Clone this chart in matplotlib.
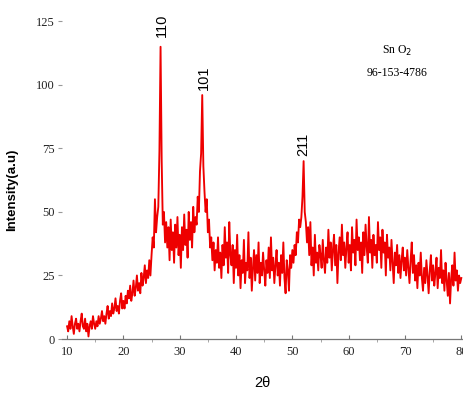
import numpy as np
import matplotlib
matplotlib.use("Agg")
import matplotlib.pyplot as plt
from matplotlib.ticker import MultipleLocator

# Scan grid: 2-theta from 10 to 80 in 0.2 degree steps
two_theta_start = 10.0
two_theta_step = 0.2

intensity = [
    # 10.0 - 14.8
    5, 3, 7, 4, 9, 5, 2, 6, 8, 4, 6, 3, 7, 10, 5, 4, 8, 3, 6, 1, 5, 7, 4, 9, 6,
    # 15.0 - 19.8
    4, 7, 5, 9, 6, 8, 11, 7, 9, 6, 10, 13, 8, 11, 9, 14, 10, 12, 16, 11, 13, 10, 15, 18, 12,
    # 20.0 - 24.8
    15, 12, 17, 14, 19, 16, 21, 15, 18, 23, 17, 20, 25, 19, 22, 18, 26, 21, 24, 29, 22, 27, 24, 31, 25,
    # 25.0 - 29.8
    33, 40, 36, 55, 42, 48, 52, 74, 115, 70, 45, 50, 38, 46, 36, 44, 31, 47, 35, 42, 30, 45, 36, 48, 33,
    # 30.0 - 34.8
    41, 28, 44, 35, 49, 37, 43, 32, 50, 39, 46, 36, 52, 42, 48, 45, 56, 50, 66, 73, 96, 68, 58, 50, 55,
    # 35.0 - 39.8
    42, 47, 36, 40, 31, 38, 27, 35, 30, 40, 28, 34, 24, 37, 29, 44, 32, 38, 26, 46, 33, 29, 37, 22, 35,
    # 40.0 - 44.8
    28, 41, 25, 33, 20, 31, 26, 39, 22, 30, 27, 42, 24, 32, 19, 28, 35, 23, 33, 26, 38, 22, 30, 25, 34,
    # 45.0 - 49.8
    27, 21, 31, 26, 36, 24, 40, 27, 32, 22, 29, 35, 25, 30, 21, 33, 26, 38, 24, 18, 31, 27, 19, 33, 28,
    # 50.0 - 54.8
    35, 30, 37, 33, 42, 38, 47, 44, 48, 56, 70, 50, 46, 38, 44, 33, 46, 29, 36, 25, 41, 30, 34, 27, 37,
    # 55.0 - 59.8
    33, 28, 39, 31, 26, 36, 30, 43, 32, 38, 27, 35, 41, 29, 37, 22, 34, 40, 31, 45, 33, 38, 28, 36, 42,
    # 60.0 - 64.8
    30, 37, 27, 44, 34, 39, 29, 47, 35, 40, 31, 38, 26, 42, 33, 45, 36, 30, 48, 34, 39, 28, 41, 33, 37,
    # 65.0 - 69.8
    30, 46, 35, 40, 28, 43, 34, 38, 25, 41, 32, 36, 27, 39, 30, 22, 34, 29, 37, 26, 33, 24, 31, 36, 27,
    # 70.0 - 74.8
    32, 25, 35, 28, 22, 31, 38, 26, 33, 23, 29, 20, 30, 25, 34, 24, 19, 28, 22, 31, 25, 18, 27, 33, 23,
    # 75.0 - 80.0
    29, 21, 26, 32, 20, 28, 24, 35, 22, 27, 19, 30, 23, 17, 26, 14, 24, 29, 21, 34, 23, 27, 19, 25, 22, 24,
]
two_theta = two_theta_start + two_theta_step * np.arange(len(intensity))

peak_labels = ["110", "101", "211"]
peak_label_x = [26.9, 34.3, 51.9]
peak_label_y = [119, 98, 72]

x_ticks = [10, 20, 30, 40, 50, 60, 70, 80]
y_ticks = [0, 25, 50, 75, 100, 125]

serif = ["Liberation Serif", "DejaVu Serif"]
sans = ["Liberation Sans", "DejaVu Sans"]

fig = plt.figure(figsize=(4.63, 3.94), dpi=100)
ax = fig.add_axes([62 / 463, 55 / 394, 401 / 463, 324 / 394])

ax.plot(two_theta, intensity, color="#ee0000", linewidth=1.35)

ax.set_xlim(9.1, 80.3)
ax.set_ylim(0, 127.5)
ax.set_xticks(x_ticks)
ax.set_yticks(y_ticks)
ax.xaxis.set_minor_locator(MultipleLocator(5))

for s in ["top", "right", "left"]:
    ax.spines[s].set_visible(False)
ax.spines["bottom"].set_color("#777777")
ax.spines["bottom"].set_linewidth(0.9)

ax.tick_params(axis="x", direction="in", length=3, width=0.8, colors="#777777",
               labelcolor="#222222", pad=5)
ax.tick_params(axis="x", which="minor", direction="out", length=2, width=0.6, colors="#999999")
ax.tick_params(axis="y", direction="out", length=3, width=0.8, colors="#999999",
               labelcolor="#222222", pad=2)
for lab in ax.get_xticklabels() + ax.get_yticklabels():
    lab.set_family(serif)
    lab.set_fontsize(9)

ax.set_xlabel("2θ", fontsize=10.5, family=sans)
ax.xaxis.set_label_coords(0.5, -0.115)
ax.set_ylabel("Intensity(a.u)", fontsize=9.5, family=sans, fontweight="bold")
ax.yaxis.set_label_coords(-0.11, 0.46)

for lab, px, py in zip(peak_labels, peak_label_x, peak_label_y):
    ax.text(px, py, lab, rotation=90, ha="center", va="bottom", fontsize=10.5, family=sans)

ax.text(0.835, 0.89, "Sn O$_2$", transform=ax.transAxes, ha="center", va="center",
        fontsize=8.5, family=serif)
ax.text(0.835, 0.822, "96-153-4786", transform=ax.transAxes, ha="center", va="center",
        fontsize=8.5, family=serif)

fig.savefig("out.png", dpi=100)
